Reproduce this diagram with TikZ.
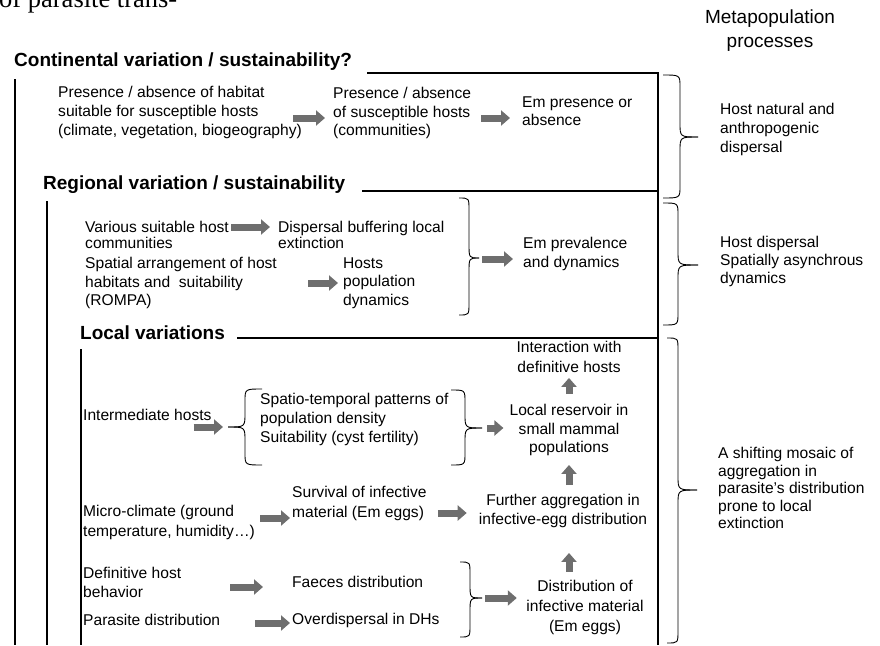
\documentclass[tikz,border=0pt]{standalone}
\usepackage{fontspec}
\setmainfont{Liberation Sans}
\newfontfamily\capfont{Liberation Serif}
\usepackage{tikz}
\usetikzlibrary{arrows.meta}
\definecolor{arrowgrey}{HTML}{6E6E6E}

% curly brace: end x, arm x, tip x, top y, tip y, bottom y
\newcommand{\wbrace}[6]{%
  \draw[brc] (#1,#4) .. controls (#2,#4) .. (#2,#4+12) -- (#2,#5-14)
    .. controls (#2,#5) .. (#3,#5);
  \draw[brc] (#1,#6) .. controls (#2,#6) .. (#2,#6-12) -- (#2,#5+14)
    .. controls (#2,#5) .. (#3,#5);}

\begin{document}
\begin{tikzpicture}[x=1pt, y=-1pt,
    txt/.style={font=\fontsize{15.6}{#1}\selectfont, align=left, inner sep=0pt, anchor=west},
    txt/.default=19,
    ctr/.style={txt=#1, align=center, anchor=center},
    ctr/.default=19,
    ttl/.style={font=\fontsize{19}{23}\selectfont\bfseries, inner sep=0pt, anchor=west},
    frame/.style={line width=1.8pt},
    brc/.style={line width=0.9pt},
    fat/.style={-{Triangle[length=9pt,width=15pt]}, line width=7pt, arrowgrey}]
  \useasboundingbox (0,0) rectangle (880,645);
  \clip (0,0) rectangle (880,645);

  % cut-off caption line and column head
  \node[font=\capfont\fontsize{26.5}{30}\selectfont, inner sep=0pt, anchor=base west] (cap) at (-1,7) {of parasite trans-};
  \node[font=\fontsize{19}{24}\selectfont, align=center, inner sep=0pt] (meta) at (770,31) {Metapopulation\\processes};

  % nested frames
  \draw[frame] (367,73) -| (658,645);
  \draw[frame] (362,191) -- (658,191);
  \draw[frame] (237,338) -- (658,338);
  \draw[frame] (15,79) -- (15,645);
  \draw[frame] (47,201) -- (47,645);
  \draw[frame] (81,349) -- (81,645);

  % continental level
  \node[ttl] (cont) at (14,62) {Continental variation / sustainability?};
  \node[txt] (hab) at (58,112) {Presence / absence of habitat\\suitable for susceptible hosts\\(climate, vegetation, biogeography)};
  \node[txt=18.5] (sus) at (333,113) {Presence / absence\\of susceptible hosts\\(communities)};
  \node[txt=18] (empres) at (522,111) {Em presence or\\absence};
  \draw[fat] ([shift={(-9,6)}]hab.east) -- ([shift={(-8,5)}]sus.west);
  \draw[fat] ([shift={(10,5)}]sus.east) -- ([shift={(-12,7)}]empres.west);
  \wbrace{663}{680}{698}{75}{137}{198}
  \node[txt] (hnat) at (720,129) {Host natural and\\anthropogenic\\dispersal};

  % regional level
  \node[ttl] (reg) at (43,185) {Regional variation / sustainability};
  \node[txt=16] (vari) at (85,235) {Various suitable host\\communities};
  \node[txt=16] (buff) at (278,235) {Dispersal buffering local\\extinction};
  \node[txt=18.5] (spat) at (85,283) {Spatial arrangement of host\\habitats and\ \ suitability\\(ROMPA)};
  \node[txt=18.5] (hpop) at (343,283) {Hosts\\population\\dynamics};
  \wbrace{459}{469}{479}{198}{258}{315}
  \coordinate (rtip) at (479,258);
  \node[txt] (emprev) at (523,254) {Em prevalence\\and dynamics};
  \draw[fat] ([shift={(2,-8)}]vari.east) -- ([shift={(-8,-8)}]buff.west);
  \draw[fat] ([shift={(31,0)}]spat.east) -- ([shift={(-5,0)}]hpop.west);
  \draw[fat] ([shift={(3,1)}]rtip) -- ([shift={(-10,5)}]emprev.west);
  \wbrace{663}{678}{698}{203}{265}{325}
  \node[txt=18] (hdisp) at (720,261) {Host dispersal\\Spatially asynchrous\\dynamics};

  % local level
  \node[ttl] (loc) at (80,333) {Local variations};
  \node[txt] (ihost) at (83,415) {Intermediate hosts};
  \wbrace{262}{245}{228}{389}{427}{465}
  \coordinate (ltip) at (228,427);
  \node[txt] (spt) at (260,419) {Spatio-temporal patterns of\\population density\\Suitability (cyst fertility)};
  \wbrace{451}{465}{482}{390}{428}{465}
  \coordinate (mtip) at (482,428);
  \node[ctr=18.5] (resv) at (569,430) {Local reservoir in\\small mammal\\populations};
  \node[ctr=20] (inter) at (569,357) {Interaction with\\definitive hosts};
  \node[txt=20] (micro) at (83,522) {Micro-climate (ground\\temperature, humidity…)};
  \node[txt=20] (surv) at (292,503) {Survival of infective\\material (Em eggs)};
  \node[ctr] (aggr) at (563,511) {Further aggregation in\\infective-egg distribution};
  \node[txt] (dhost) at (83,582) {Definitive host\\behavior};
  \node[txt] (faec) at (292,582) {Faeces distribution};
  \node[txt] (pdist) at (83,620) {Parasite distribution};
  \node[txt] (odisp) at (292,620) {Overdispersal in DHs};
  \wbrace{460}{470}{482}{562}{598}{637}
  \coordinate (dtip) at (482,598);
  \node[ctr=20] (infm) at (585,607) {Distribution of\\infective material\\(Em eggs)};
  \draw[fat] ([shift={(-18,12)}]ihost.east) -- ([shift={(-5,0)}]ltip);
  \draw[fat] ([shift={(5,0)}]mtip) -- ([shift={(-6,-2)}]resv.west);
  \draw[fat] ([shift={(0,-10)}]resv.north) -- ([shift={(0,5)}]inter.south);
  \draw[fat] ([shift={(6,-9)}]aggr.north) -- ([shift={(0,9)}]resv.south);
  \draw[fat] ([shift={(-16,-8)}]infm.north) -- ([shift={(6,25)}]aggr.south);
  \draw[fat] ([shift={(5,-4)}]micro.east) -- ([shift={(-2,15)}]surv.west);
  \draw[fat] ([shift={(11,10)}]surv.east) -- ([shift={(-12,2)}]aggr.west);
  \draw[fat] ([shift={(49,5)}]dhost.east) -- ([shift={(-29,5)}]faec.west);
  \draw[fat] ([shift={(35,3)}]pdist.east) -- ([shift={(-2,3)}]odisp.west);
  \draw[fat] ([shift={(3,0)}]dtip) -- ([shift={(-9.5,-9)}]infm.west);
  \wbrace{667}{678}{697}{338}{490}{643}
  \node[txt=17.5] (mosaic) at (718,488) {A shifting mosaic of\\aggregation in\\parasite's distribution\\prone to local\\extinction};
\end{tikzpicture}
\end{document}
